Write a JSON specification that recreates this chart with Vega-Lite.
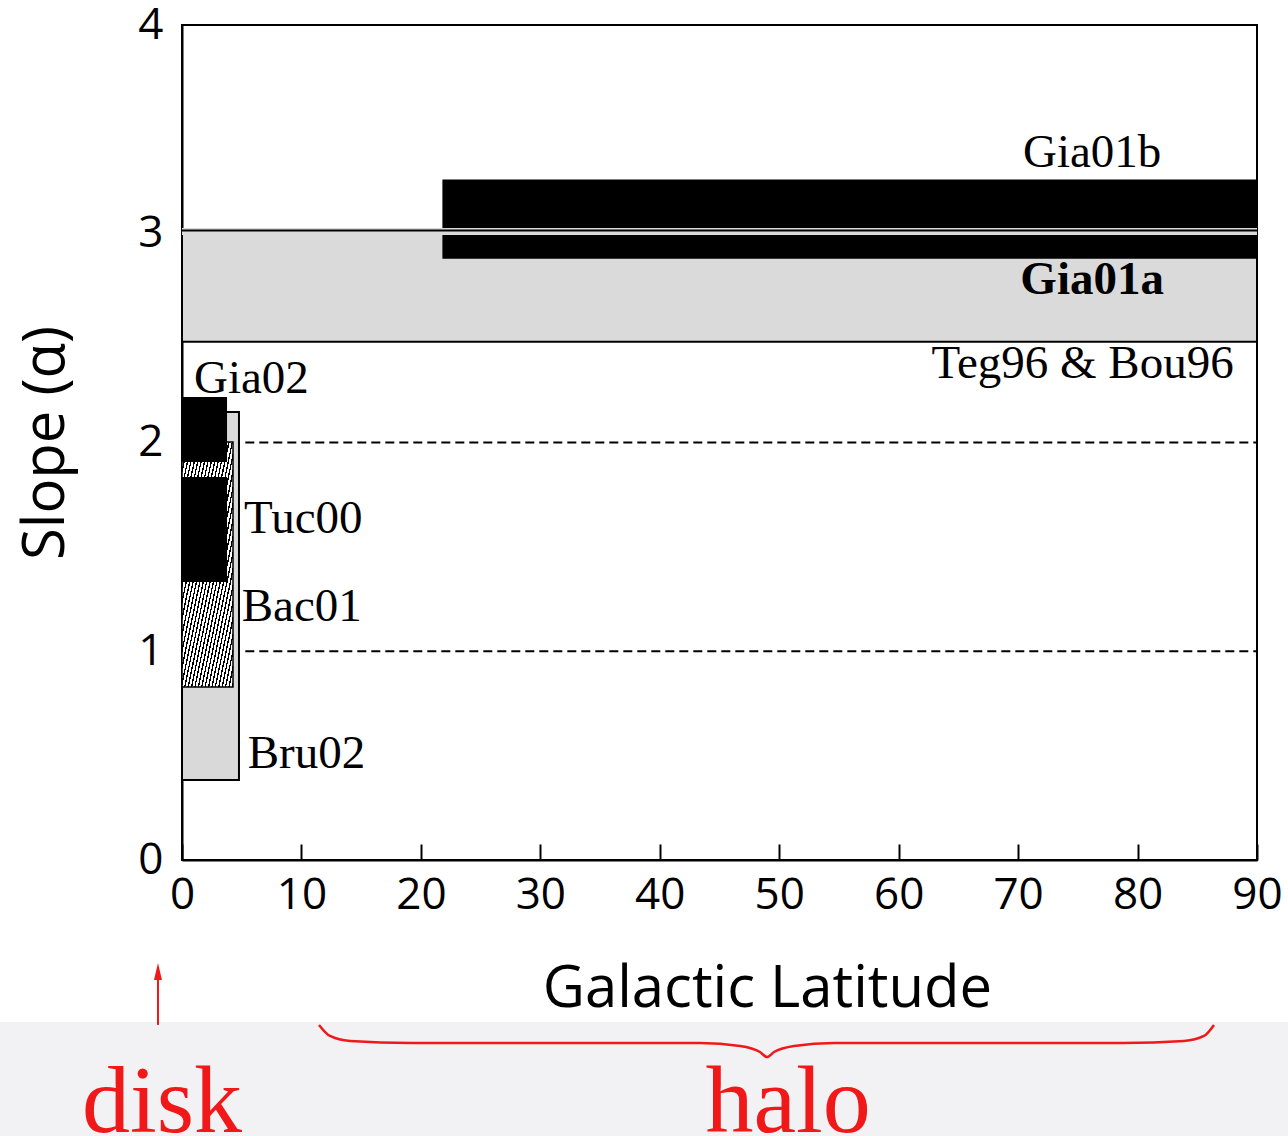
{
  "$schema": "https://vega.github.io/schema/vega-lite/v6.json",
  "width": 1075,
  "height": 835,
  "autosize": {"type": "none"},
  "padding": {"left": 182, "top": 25, "right": 31, "bottom": 276},
  "background": "white",
  "config": {
    "view": {"stroke": "black", "strokeWidth": 2},
    "axis": {"grid": false, "domainColor": "black", "domainWidth": 2, "labelColor": "black", "titleColor": "black", "labelFont": "Open Sans", "titleFont": "Open Sans", "titleFontWeight": "normal"}
  },
  "datasets": {
    "bg": [{"x": -15.4, "x2": 92.8, "y": -0.776, "y2": -1.36}],
    "dashes": [
      {"x": 5.3, "x2": 90, "y": 1},
      {"x": 5.3, "x2": 90, "y": 2}
    ],
    "grayBoxes": [
      {"name": "Teg96 & Bou96", "x": 0, "x2": 90, "y": 2.483, "y2": 3.013},
      {"name": "Bru02", "x": 0, "x2": 4.77, "y": 0.383, "y2": 2.146}
    ],
    "halo1": [{"name": "Gia01b", "x": 21.8, "x2": 90, "y": 2.88, "y2": 3.26}],
    "border": [{"x": 0, "x2": 90, "y": 3.011}],
    "textured": [{"name": "Bac01", "x": 0, "x2": 4.27, "y": 0.829, "y2": 2.002}],
    "diskBlack": [
      {"name": "Gia02", "x": 0, "x2": 3.77, "y": 1.907, "y2": 2.218},
      {"name": "Tuc00", "x": 0, "x2": 3.77, "y": 1.332, "y2": 1.835}
    ],
    "labels": [
      {"text": "Gia01b", "x": 76.2, "y": 3.32, "kind": "center"},
      {"text": "Teg96 & Bou96", "x": 75.4, "y": 2.309, "kind": "center"},
      {"text": "Gia01a", "x": 76.2, "y": 2.71, "kind": "bold"},
      {"text": "Gia02", "x": 1.0, "y": 2.237, "kind": "left"},
      {"text": "Tuc00", "x": 5.2, "y": 1.566, "kind": "left"},
      {"text": "Bac01", "x": 5.0, "y": 1.145, "kind": "left"},
      {"text": "Bru02", "x": 5.5, "y": 0.441, "kind": "left"}
    ],
    "arrow": [{"x": -2.01, "x2": -2.01, "y": -0.79, "y2": -0.55}],
    "arrowHead": [{"x": -2.01, "y": -0.534}],
    "brace": [
      {"x": 11.47, "y": -0.79},
      {"x": 12.39, "y": -0.843},
      {"x": 14.07, "y": -0.867},
      {"x": 19.17, "y": -0.877},
      {"x": 43.37, "y": -0.877},
      {"x": 46.72, "y": -0.891},
      {"x": 48.39, "y": -0.92},
      {"x": 48.98, "y": -0.944},
      {"x": 49.56, "y": -0.92},
      {"x": 51.24, "y": -0.891},
      {"x": 54.59, "y": -0.877},
      {"x": 78.79, "y": -0.877},
      {"x": 83.89, "y": -0.867},
      {"x": 85.56, "y": -0.843},
      {"x": 86.4, "y": -0.79}
    ],
    "regions": [
      {"text": "disk", "x": -1.67, "y": -1.303},
      {"text": "halo", "x": 50.74, "y": -1.303}
    ]
  },
  "encoding": {
    "x": {
      "field": "x", "type": "quantitative",
      "scale": {"domain": [0, 90], "nice": false, "zero": false},
      "axis": {
        "title": "Galactic Latitude", "values": [0, 10, 20, 30, 40, 50, 60, 70, 80, 90],
        "tickSize": -16, "tickColor": "black", "tickWidth": 2,
        "labelFontSize": 44, "labelBaseline": "alphabetic", "labelPadding": 64,
        "labelFlush": false, "labelOverlap": false,
        "titleFontSize": 58, "titleX": 585, "titleY": 146, "titleBaseline": "alphabetic", "titleAlign": "center"
      }
    },
    "y": {
      "field": "y", "type": "quantitative",
      "scale": {"domain": [0, 4], "nice": false, "zero": false},
      "axis": {
        "title": "Slope (α)", "values": [0, 1, 2, 3, 4],
        "ticks": false, "labelPadding": 19, "labelFontSize": 44,
        "labelFlush": false, "labelOverlap": false,
        "titleFontSize": 58, "titleX": -119, "titleY": 417.5, "titleAngle": -90, "titleBaseline": "alphabetic", "titleAlign": "center"
      }
    }
  },
  "layer": [
    {
      "data": {"name": "bg"},
      "mark": {"type": "rect", "fill": "#f2f2f4"},
      "encoding": {"x2": {"field": "x2"}, "y2": {"field": "y2"}}
    },
    {
      "data": {"name": "dashes"},
      "mark": {"type": "rule", "color": "black", "strokeWidth": 2, "strokeDash": [9, 5]},
      "encoding": {"x2": {"field": "x2"}}
    },
    {
      "data": {"name": "grayBoxes"},
      "transform": [{"filter": "datum.name === 'Teg96 & Bou96'"}],
      "mark": {"type": "rect", "fill": "#dadada", "stroke": "black", "strokeWidth": 2},
      "encoding": {"x2": {"field": "x2"}, "y2": {"field": "y2"}}
    },
    {
      "data": {"name": "halo1"},
      "mark": {"type": "rect", "fill": "black"},
      "encoding": {"x2": {"field": "x2"}, "y2": {"field": "y2"}}
    },
    {
      "data": {"name": "border"},
      "mark": {"type": "rule", "color": "#dadada", "strokeWidth": 7},
      "encoding": {"x2": {"field": "x2"}}
    },
    {
      "data": {"name": "border"},
      "mark": {"type": "rule", "color": "black", "strokeWidth": 2, "yOffset": -1},
      "encoding": {"x2": {"field": "x2"}}
    },
    {
      "data": {"name": "grayBoxes"},
      "transform": [{"filter": "datum.name === 'Bru02'"}],
      "mark": {"type": "rect", "fill": "#d9d9d9", "stroke": "black", "strokeWidth": 2},
      "encoding": {"x2": {"field": "x2"}, "y2": {"field": "y2"}}
    },
    {
      "data": {"name": "textured"},
      "mark": {
        "type": "rect", "stroke": "black", "strokeWidth": 1.5,
        "fill": {
          "gradient": "linear", "x1": 0, "y1": 0, "x2": 1, "y2": 1,
          "stops": [
            {"offset": 0, "color": "white"}, {"offset": 0.02, "color": "white"}, {"offset": 0.02, "color": "black"}, {"offset": 0.033, "color": "black"},
            {"offset": 0.033, "color": "white"}, {"offset": 0.053, "color": "white"}, {"offset": 0.053, "color": "black"}, {"offset": 0.067, "color": "black"},
            {"offset": 0.067, "color": "white"}, {"offset": 0.087, "color": "white"}, {"offset": 0.087, "color": "black"}, {"offset": 0.1, "color": "black"},
            {"offset": 0.1, "color": "white"}, {"offset": 0.12, "color": "white"}, {"offset": 0.12, "color": "black"}, {"offset": 0.133, "color": "black"},
            {"offset": 0.133, "color": "white"}, {"offset": 0.153, "color": "white"}, {"offset": 0.153, "color": "black"}, {"offset": 0.167, "color": "black"},
            {"offset": 0.167, "color": "white"}, {"offset": 0.187, "color": "white"}, {"offset": 0.187, "color": "black"}, {"offset": 0.2, "color": "black"},
            {"offset": 0.2, "color": "white"}, {"offset": 0.22, "color": "white"}, {"offset": 0.22, "color": "black"}, {"offset": 0.233, "color": "black"},
            {"offset": 0.233, "color": "white"}, {"offset": 0.253, "color": "white"}, {"offset": 0.253, "color": "black"}, {"offset": 0.267, "color": "black"},
            {"offset": 0.267, "color": "white"}, {"offset": 0.287, "color": "white"}, {"offset": 0.287, "color": "black"}, {"offset": 0.3, "color": "black"},
            {"offset": 0.3, "color": "white"}, {"offset": 0.32, "color": "white"}, {"offset": 0.32, "color": "black"}, {"offset": 0.333, "color": "black"},
            {"offset": 0.333, "color": "white"}, {"offset": 0.353, "color": "white"}, {"offset": 0.353, "color": "black"}, {"offset": 0.367, "color": "black"},
            {"offset": 0.367, "color": "white"}, {"offset": 0.387, "color": "white"}, {"offset": 0.387, "color": "black"}, {"offset": 0.4, "color": "black"},
            {"offset": 0.4, "color": "white"}, {"offset": 0.42, "color": "white"}, {"offset": 0.42, "color": "black"}, {"offset": 0.433, "color": "black"},
            {"offset": 0.433, "color": "white"}, {"offset": 0.453, "color": "white"}, {"offset": 0.453, "color": "black"}, {"offset": 0.467, "color": "black"},
            {"offset": 0.467, "color": "white"}, {"offset": 0.487, "color": "white"}, {"offset": 0.487, "color": "black"}, {"offset": 0.5, "color": "black"},
            {"offset": 0.5, "color": "white"}, {"offset": 0.52, "color": "white"}, {"offset": 0.52, "color": "black"}, {"offset": 0.533, "color": "black"},
            {"offset": 0.533, "color": "white"}, {"offset": 0.553, "color": "white"}, {"offset": 0.553, "color": "black"}, {"offset": 0.567, "color": "black"},
            {"offset": 0.567, "color": "white"}, {"offset": 0.587, "color": "white"}, {"offset": 0.587, "color": "black"}, {"offset": 0.6, "color": "black"},
            {"offset": 0.6, "color": "white"}, {"offset": 0.62, "color": "white"}, {"offset": 0.62, "color": "black"}, {"offset": 0.633, "color": "black"},
            {"offset": 0.633, "color": "white"}, {"offset": 0.653, "color": "white"}, {"offset": 0.653, "color": "black"}, {"offset": 0.667, "color": "black"},
            {"offset": 0.667, "color": "white"}, {"offset": 0.687, "color": "white"}, {"offset": 0.687, "color": "black"}, {"offset": 0.7, "color": "black"},
            {"offset": 0.7, "color": "white"}, {"offset": 0.72, "color": "white"}, {"offset": 0.72, "color": "black"}, {"offset": 0.733, "color": "black"},
            {"offset": 0.733, "color": "white"}, {"offset": 0.753, "color": "white"}, {"offset": 0.753, "color": "black"}, {"offset": 0.767, "color": "black"},
            {"offset": 0.767, "color": "white"}, {"offset": 0.787, "color": "white"}, {"offset": 0.787, "color": "black"}, {"offset": 0.8, "color": "black"},
            {"offset": 0.8, "color": "white"}, {"offset": 0.82, "color": "white"}, {"offset": 0.82, "color": "black"}, {"offset": 0.833, "color": "black"},
            {"offset": 0.833, "color": "white"}, {"offset": 0.853, "color": "white"}, {"offset": 0.853, "color": "black"}, {"offset": 0.867, "color": "black"},
            {"offset": 0.867, "color": "white"}, {"offset": 0.887, "color": "white"}, {"offset": 0.887, "color": "black"}, {"offset": 0.9, "color": "black"},
            {"offset": 0.9, "color": "white"}, {"offset": 0.92, "color": "white"}, {"offset": 0.92, "color": "black"}, {"offset": 0.933, "color": "black"},
            {"offset": 0.933, "color": "white"}, {"offset": 0.953, "color": "white"}, {"offset": 0.953, "color": "black"}, {"offset": 0.967, "color": "black"},
            {"offset": 0.967, "color": "white"}, {"offset": 0.987, "color": "white"}, {"offset": 0.987, "color": "black"}, {"offset": 1, "color": "black"}
          ]
        }
      },
      "encoding": {"x2": {"field": "x2"}, "y2": {"field": "y2"}}
    },
    {
      "data": {"name": "diskBlack"},
      "mark": {"type": "rect", "fill": "black"},
      "encoding": {"x2": {"field": "x2"}, "y2": {"field": "y2"}}
    },
    {
      "data": {"name": "labels"},
      "transform": [{"filter": "datum.kind === 'center'"}],
      "mark": {"type": "text", "font": "Liberation Serif", "fontSize": 47, "color": "black", "align": "center", "baseline": "alphabetic"},
      "encoding": {"text": {"field": "text"}}
    },
    {
      "data": {"name": "labels"},
      "transform": [{"filter": "datum.kind === 'bold'"}],
      "mark": {"type": "text", "font": "Liberation Serif", "fontSize": 47, "fontWeight": "bold", "color": "black", "align": "center", "baseline": "alphabetic"},
      "encoding": {"text": {"field": "text"}}
    },
    {
      "data": {"name": "labels"},
      "transform": [{"filter": "datum.kind === 'left'"}],
      "mark": {"type": "text", "font": "Liberation Serif", "fontSize": 47, "color": "black", "align": "left", "baseline": "alphabetic"},
      "encoding": {"text": {"field": "text"}}
    },
    {
      "data": {"name": "arrow"},
      "mark": {"type": "rule", "color": "#f01818", "strokeWidth": 2},
      "encoding": {"x2": {"field": "x2"}, "y2": {"field": "y2"}}
    },
    {
      "data": {"name": "arrowHead"},
      "mark": {"type": "point", "shape": "M-0.47,1L0,-1L0.47,1Z", "size": 289, "filled": true, "color": "#f01818", "opacity": 1},
      "encoding": {}
    },
    {
      "data": {"name": "brace"},
      "mark": {"type": "line", "color": "#f01818", "strokeWidth": 2.5, "interpolate": "monotone"},
      "encoding": {}
    },
    {
      "data": {"name": "regions"},
      "mark": {"type": "text", "font": "Liberation Serif", "fontSize": 96, "color": "#f01818", "align": "center", "baseline": "alphabetic"},
      "encoding": {"text": {"field": "text"}}
    }
  ]
}
